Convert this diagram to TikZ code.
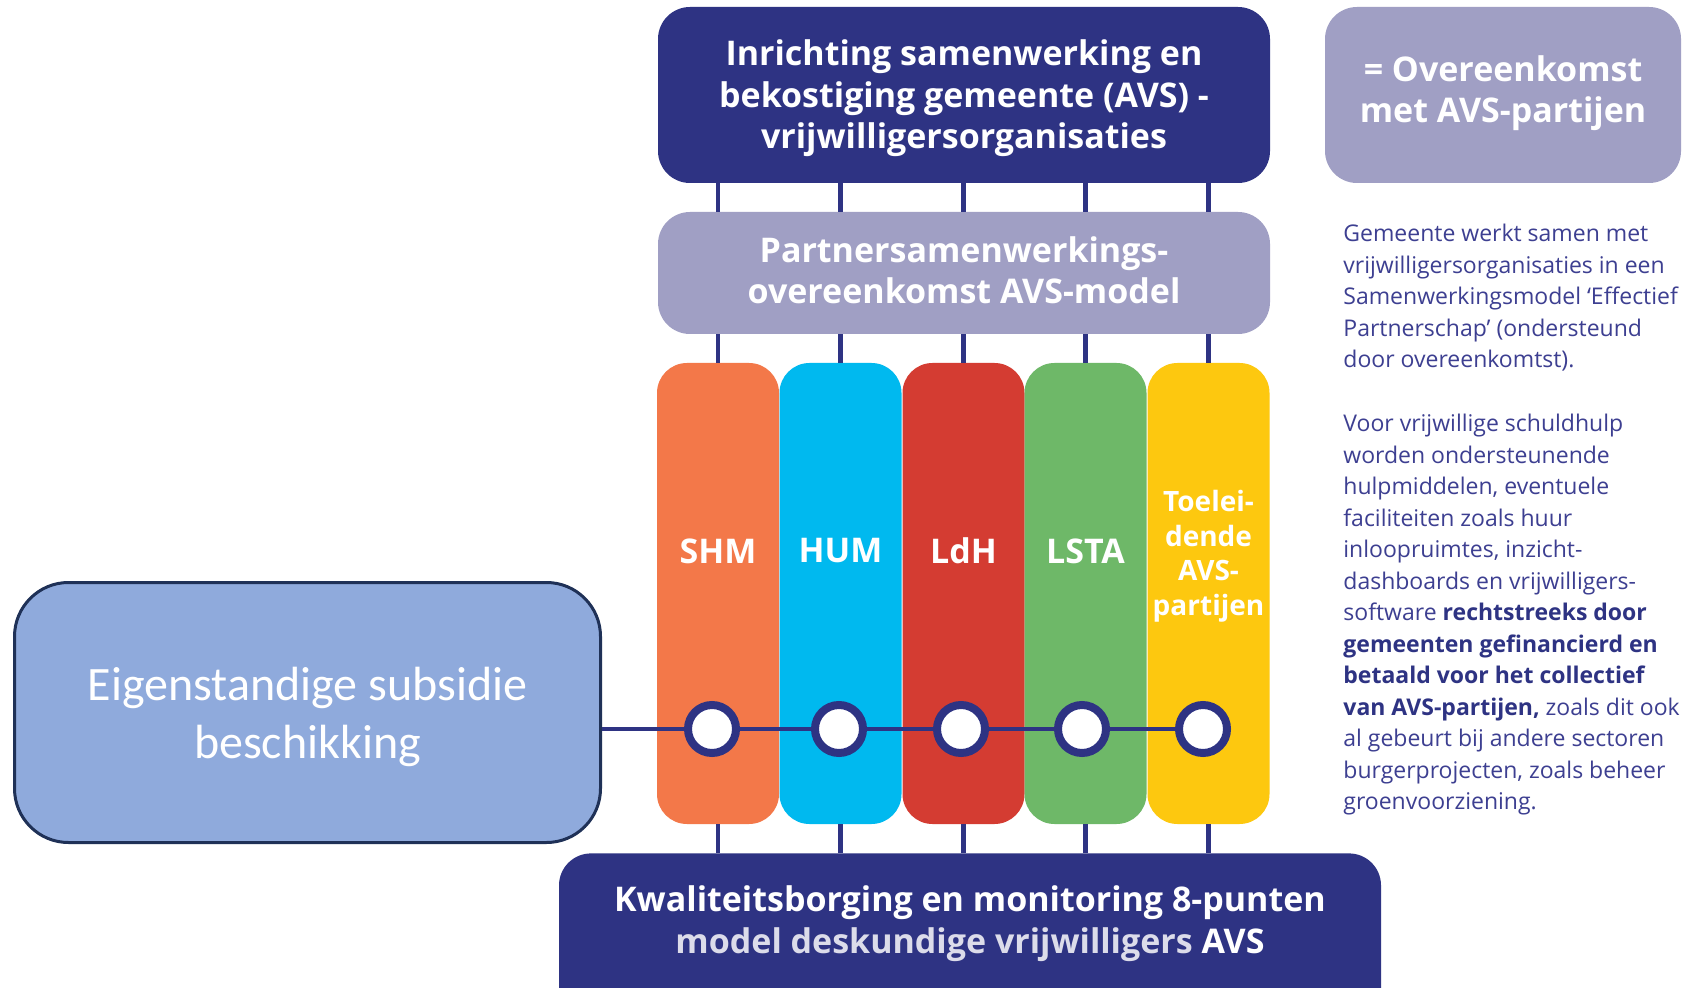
\documentclass[tikz,border=0pt]{standalone}
\usepackage{fontspec}
\setmainfont{Open Sans}
\newfontfamily\calibrifont{Carlito}
\usetikzlibrary{calc}

\definecolor{avsnavy}{HTML}{2E3383}
\definecolor{avslila}{HTML}{A09FC4}
\definecolor{avsorange}{HTML}{F37849}
\definecolor{avscyan}{HTML}{00B9EF}
\definecolor{avsred}{HTML}{D43C32}
\definecolor{avsgreen}{HTML}{6EB868}
\definecolor{avsyellow}{HTML}{FDC80F}
\definecolor{subsblue}{HTML}{8FAADC}
\definecolor{subsline}{HTML}{1F3157}
\definecolor{infotext}{HTML}{3D3F91}
\definecolor{palewhite}{HTML}{DCDCEA}

\newcommand{\infobold}[1]{\textbf{\color{avsnavy}#1}}

\begin{document}
\begin{tikzpicture}[x=0.5pt,y=0.5pt,yscale=-1,xscale=1,
    bigbox/.style={rounded corners=16pt, inner sep=0pt},
    boxtext/.style={text=white, align=center, inner sep=0pt,
      font=\bfseries\fontsize{17}{20.7}\selectfont},
    column/.style={rounded corners=15pt, minimum width=61pt, minimum height=230.5pt, inner sep=0pt},
    collabel/.style={text=white, align=center, inner sep=0pt, font=\bfseries\fontsize{17}{20}\selectfont},
    link/.style={draw=avsnavy, line width=2.2pt},
    knot/.style={circle, draw=avsnavy, fill=white, line width=4pt, minimum size=24pt, inner sep=0pt},
    info/.style={text=infotext, align=left, inner sep=0pt, anchor=north west,
      font=\fontsize{11.5}{15.75}\selectfont}]
      %set diagram size: 1685 x 988
      \fill[white] (0,0) rectangle (1685,988);
      \useasboundingbox (0,0) rectangle (1685,988);

      %Rounded Rect top
      \node[bigbox, fill=avsnavy, minimum width=306pt, minimum height=88pt] (finance) at (964,95) {};
      %Rounded Rect partner
      \node[bigbox, fill=avslila, minimum width=306pt, minimum height=61pt] (partner) at (964,273) {};
      %Rounded Rect legend
      \node[bigbox, fill=avslila, minimum width=178pt, minimum height=88pt] (legend) at (1503,95) {};
      %Rounded Rect bottom
      \node[bigbox, fill=avsnavy, minimum width=411pt, minimum height=90pt, anchor=north] (quality) at (970,853) {};

      %Columns and knots
      \foreach \name/\xx/\kx/\col in {shm/718/712/avsorange, hum/840.5/839/avscyan, ldh/963.5/961/avsred,
          lsta/1085.5/1082/avsgreen, toel/1208.5/1203/avsyellow}{
        \node[column, fill=\col] (\name) at (\xx,593.5) {};
        \node[knot] (k\name) at (\kx,729) {};
      }

      %Rounded Rect subsidie
      \node[draw=subsline, line width=1.5pt, fill=subsblue, rounded corners=27pt,
        minimum width=293pt, minimum height=130pt] (subs) at (307.5,712.5) {};

      %Straight Lines
      \foreach \name in {shm,hum,ldh,lsta,toel}{
        \draw[link] (finance.south -| \name) -- (partner.north -| \name);
        \draw[link] (partner.south -| \name) -- (\name.north);
        \draw[link] (\name.south) -- (quality.north -| \name);
      }
      \draw[link] (subs.east |- kshm) -- (kshm);
      \draw[link] (kshm) -- (khum);
      \draw[link] (khum) -- (kldh);
      \draw[link] (kldh) -- (klsta);
      \draw[link] (klsta) -- (ktoel);

      % Text Node
      \node[boxtext] (financetext) at (964,98.5)
        {Inrichting samenwerking en\\bekostiging gemeente (AVS) -\\vrijwilligersorganisaties};
      % Text Node
      \node[boxtext] (partnertext) at (964,270.3)
        {Partnersamenwerkings-\\overeenkomst AVS-model};
      % Text Node
      \node[boxtext] (legendtext) at (1503,93)
        {= Overeenkomst\\met AVS-partijen};
      % Text Node
      \node[boxtext, font=\bfseries\fontsize{17}{21}\selectfont] (qualitytext) at (970,923.3)
        {Kwaliteitsborging en monitoring 8-punten\\\textcolor{palewhite}{model deskundige vrijwilligers} AVS};
      % Text Node
      \node[text=white, align=center, inner sep=0pt, font=\calibrifont\fontsize{24}{29}\selectfont] (substext) at (307.5,716.8)
        {Eigenstandige subsidie\\beschikking};
      % Text Node
      \node[collabel, yshift=21.25pt] (shmtext) at (shm) {SHM};
      % Text Node
      \node[collabel, yshift=21.25pt] (humtext) at (hum) {HUM};
      % Text Node
      \node[collabel, yshift=21.25pt] (ldhtext) at (ldh) {LdH};
      % Text Node
      \node[collabel, yshift=21.25pt] (lstatext) at (lsta) {LSTA};
      % Text Node
      \node[collabel, yshift=18.65pt, font=\bfseries\fontsize{14}{17.2}\selectfont] (toeltext) at (toel)
        {Toelei-\\dende\\AVS-\\partijen};
      % Text Node
      \node[info] (info1) at (1343,224)
        {Gemeente werkt samen met\\vrijwilligersorganisaties in een\\Samenwerkingsmodel ‘Effectief\\Partnerschap’ (ondersteund\\door overeenkomtst).};
      % Text Node
      \node[info] (info2) at (1343,414)
        {Voor vrijwillige schuldhulp\\worden ondersteunende\\hulpmiddelen, eventuele\\faciliteiten zoals huur\\inloopruimtes, inzicht-\\dashboards en vrijwilligers-\\software \infobold{rechtstreeks door}\\\infobold{gemeenten gefinancierd en}\\\infobold{betaald voor het collectief}\\\infobold{van AVS-partijen,} zoals dit ook\\al gebeurt bij andere sectoren\\burgerprojecten, zoals beheer\\groenvoorziening.};
\end{tikzpicture}
\end{document}
